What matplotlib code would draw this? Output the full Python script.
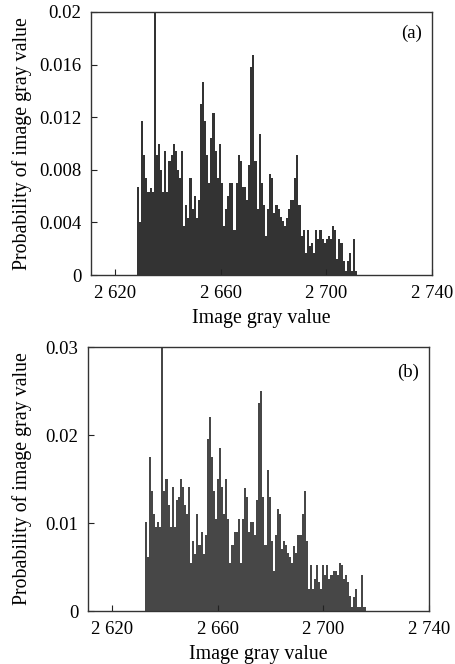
import matplotlib
matplotlib.use("Agg")
import matplotlib.pyplot as plt
import numpy as np

plt.rcParams['font.family'] = ['Liberation Serif', 'DejaVu Serif']
plt.rcParams['font.size'] = 13.5

# panel (a): bar heights, left to right
a_start, a_end = 2628.4, 2711.7
a_vals = [0.0067, 0.0040, 0.0117, 0.0091, 0.0074, 0.0063, 0.0066, 0.0063, 0.0200, 0.0091,
          0.0100, 0.0080, 0.0063, 0.0094, 0.0063, 0.0087, 0.0091, 0.0100, 0.0094, 0.0080,
          0.0074, 0.0094, 0.0037, 0.0053, 0.0043, 0.0074, 0.0050, 0.0060, 0.0043, 0.0057,
          0.0130, 0.0147, 0.0117, 0.0091, 0.0070, 0.0104, 0.0123, 0.0094, 0.0074, 0.0100,
          0.0070, 0.0037, 0.0050, 0.0060, 0.0070, 0.0070, 0.0034, 0.0070, 0.0091, 0.0087,
          0.0067,
          0.0067, 0.0057, 0.0084, 0.0158, 0.0167, 0.0087, 0.0050, 0.0107, 0.0070, 0.0053,
          0.0030, 0.0050, 0.0077, 0.0074, 0.0047, 0.0053, 0.0050, 0.0044, 0.0041, 0.0037,
          0.0043, 0.0050, 0.0057, 0.0057, 0.0074, 0.0091, 0.0053, 0.0030, 0.0034, 0.0017,
          0.0034, 0.0022, 0.0024, 0.0017, 0.0034, 0.0027, 0.0034, 0.0027, 0.0024, 0.0027,
          0.0030, 0.0027, 0.0037, 0.0034, 0.0012, 0.0027, 0.0024, 0.0011, 0.0003, 0.0011,
          0.0017, 0.0003, 0.0027, 0.0003]

# panel (b)
b_start, b_end = 2632.5, 2716.0
b_vals = [0.0101, 0.0061, 0.0175, 0.0136, 0.0110, 0.0095, 0.0101, 0.0095, 0.0300, 0.0136,
          0.0150, 0.0120, 0.0095, 0.0141, 0.0095, 0.0126, 0.0130, 0.0150, 0.0141, 0.0120,
          0.0110, 0.0141, 0.0055, 0.0080, 0.0065, 0.0110, 0.0075, 0.0090, 0.0065, 0.0086,
          0.0195, 0.0221, 0.0175, 0.0136, 0.0105, 0.0150, 0.0185, 0.0141, 0.0110, 0.0150,
          0.0105, 0.0055, 0.0075, 0.0090,
          0.0090, 0.0105, 0.0055, 0.0105, 0.0140, 0.0130, 0.0090, 0.0101, 0.0101, 0.0086,
          0.0126, 0.0236, 0.0250, 0.0130, 0.0075, 0.0160, 0.0130, 0.0080, 0.0045, 0.0086,
          0.0116, 0.0110, 0.0070, 0.0080, 0.0075, 0.0066, 0.0061, 0.0055, 0.0074, 0.0066,
          0.0086, 0.0086, 0.0110, 0.0136, 0.0080, 0.0025, 0.0052, 0.0025, 0.0036, 0.0052,
          0.0033, 0.0025, 0.0052, 0.0041, 0.0052, 0.0036, 0.0041, 0.0045, 0.0045, 0.0041,
          0.0055, 0.0052, 0.0036, 0.0041, 0.0033, 0.0017, 0.0005, 0.0016, 0.0025, 0.0005,
          0.0005, 0.0041, 0.0005]

x_ticks = [2620, 2660, 2700, 2740]
x_labels = ['2 620', '2 660', '2 700', '2 740']
a_yticks = [0, 0.004, 0.008, 0.012, 0.016, 0.02]
a_ylabels = ['0', '0.004', '0.008', '0.012', '0.016', '0.02']
b_yticks = [0, 0.01, 0.02, 0.03]
b_ylabels = ['0', '0.01', '0.02', '0.03']

W, H = 456, 664
fig = plt.figure(figsize=(W / 100, H / 100), dpi=100)
ax1 = fig.add_axes([91 / W, 1 - 275 / H, (432 - 91) / W, (275 - 12) / H])
ax2 = fig.add_axes([88 / W, 1 - 611 / H, (429 - 88) / W, (611 - 347) / H])


def draw(ax, start, end, vals, color, yticks, ylabels, tag, tag_y):
    w = (end - start) / len(vals)
    xs = start + w * np.arange(len(vals))
    ax.bar(xs, vals, width=w, align='edge', color=color, linewidth=0)
    ax.set_xlim(2611, 2740)
    ax.set_ylim(0, yticks[-1])
    ax.set_xticks(x_ticks)
    ax.set_xticklabels(x_labels)
    ax.set_yticks(yticks)
    ax.set_yticklabels(ylabels)
    ax.tick_params(direction='in', length=4, width=0.8, color='#222222')
    ax.tick_params(axis='y', pad=7)
    ax.tick_params(axis='x', pad=7)
    for s in ax.spines.values():
        s.set_linewidth(1.0)
        s.set_color('#333333')
    ax.set_xlabel('Image gray value', fontsize=14.3, labelpad=5)
    ax.set_ylabel('Probability of image gray value', fontsize=14.3)
    ax.text(0.97, tag_y, tag, transform=ax.transAxes, ha='right', va='center')


draw(ax1, a_start, a_end, a_vals, '#333333', a_yticks, a_ylabels, '(a)', 0.92)
draw(ax2, b_start, b_end, b_vals, '#474747', b_yticks, b_ylabels, '(b)', 0.905)
ax1.yaxis.set_label_coords(-0.173, 0.5)
ax2.yaxis.set_label_coords(-0.164, 0.5)

fig.savefig('out.png', dpi=100)
